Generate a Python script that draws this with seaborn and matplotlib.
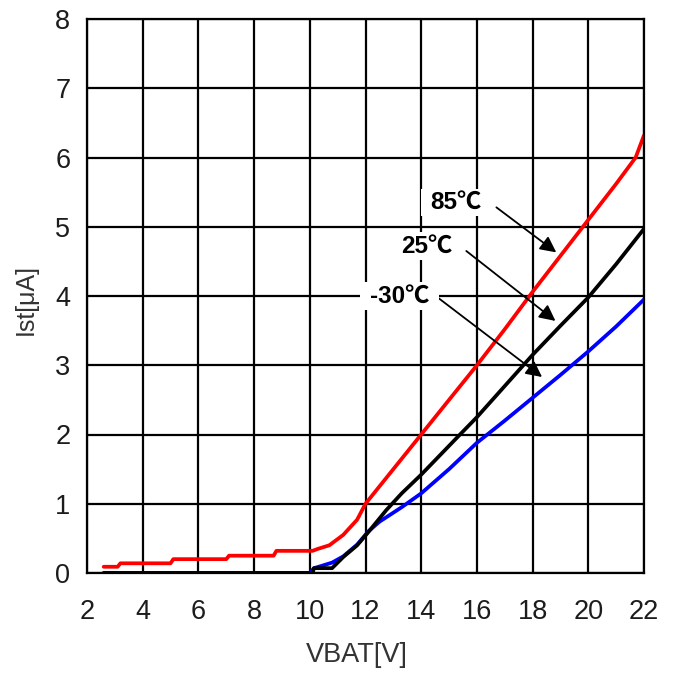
import matplotlib
matplotlib.use("Agg")
import matplotlib.pyplot as plt
from matplotlib.path import Path
import pandas as pd
import seaborn as sns

# Standby current Ist [uA] against battery voltage VBAT [V] at three temperatures
temps = ["-30℃", "25℃", "85℃"]
colors = ["#0000ff", "#000000", "#ff0000"]

vbat_m30 = [2.6, 10.0, 10.15, 10.4, 10.8, 11.2, 11.7, 12.1, 12.5, 13.3, 14.0,
            15.0, 16.0, 17.0, 18.0, 19.0, 20.0, 21.0, 22.0]
ist_m30 = [0.0, 0.0, 0.07, 0.1, 0.15, 0.24, 0.41, 0.6, 0.74, 0.95, 1.15,
           1.5, 1.88, 2.2, 2.53, 2.86, 3.2, 3.56, 3.95]

vbat_25 = [2.6, 10.1, 10.15, 10.8, 11.2, 11.7, 12.1, 12.75, 13.3, 14.0,
           15.37, 16.0, 17.0, 18.0, 19.0, 20.0, 21.0, 22.0]
ist_25 = [0.0, 0.0, 0.07, 0.07, 0.23, 0.40, 0.59, 0.91, 1.15, 1.42,
          1.99, 2.25, 2.70, 3.15, 3.57, 3.98, 4.46, 4.97]

vbat_85 = [2.6, 3.1, 3.2, 5.0, 5.1, 7.0, 7.1, 8.7, 8.8, 10.1, 10.3, 10.7,
           11.2, 11.7, 12.0, 13.0, 14.0, 15.0, 16.0, 17.0, 18.0, 19.0,
           20.0, 21.0, 21.7, 22.0]
ist_85 = [0.09, 0.09, 0.14, 0.14, 0.20, 0.20, 0.25, 0.25, 0.32, 0.32, 0.35,
          0.40, 0.55, 0.77, 1.0, 1.5, 2.0, 2.5, 3.0, 3.52, 4.06, 4.58,
          5.1, 5.62, 6.0, 6.32]

x_ticks = [2, 4, 6, 8, 10, 12, 14, 16, 18, 20, 22]
y_ticks = [0, 1, 2, 3, 4, 5, 6, 7, 8]

# label text position, arrow tail, arrow head (data units)
callouts = [
    ("85℃", (15.26, 5.35), (16.70, 5.28), (18.85, 4.63)),
    ("25℃", (14.19, 4.72), (15.62, 4.65), (18.82, 3.64)),
    ("-30℃", (13.22, 4.00), (14.62, 3.97), (18.34, 2.83)),
]

frames = []
for name, xs, ys in zip(temps, [vbat_m30, vbat_25, vbat_85], [ist_m30, ist_25, ist_85]):
    frames.append(pd.DataFrame({"VBAT": xs, "Ist": ys, "temp": name}))
df = pd.concat(frames, ignore_index=True)


def label_box(x0, y0, width, height, mutation_size):
    """White backing box: wide horizontal padding, tight vertical padding."""
    padx = 0.40 * mutation_size
    pady = 0.10 * mutation_size
    x0, y0 = x0 - padx, y0 - pady
    x1, y1 = x0 + width + 2 * padx, y0 + height + 2 * pady
    return Path([(x0, y0), (x1, y0), (x1, y1), (x0, y1), (x0, y0)], closed=True)


sns.set_theme(style="white")
plt.rcParams["font.family"] = ["Liberation Sans", "Noto Sans CJK JP", "DejaVu Sans"]

fig = plt.figure(figsize=(6.77, 6.75), dpi=100)
ax = fig.add_axes([87 / 677, 1 - 573 / 675, (644 - 87) / 677, (573 - 19) / 675])

sns.lineplot(data=df, x="VBAT", y="Ist", hue="temp", hue_order=temps,
             palette=colors, estimator=None, sort=False, linewidth=2.7,
             legend=False, ax=ax)

ax.set_xlim(2, 22)
ax.set_ylim(0, 8)
ax.set_xticks(x_ticks)
ax.set_yticks(y_ticks)
ax.grid(True, color="black", linewidth=1.6)
ax.set_axisbelow(True)
for sp in ax.spines.values():
    sp.set_color("black")
    sp.set_linewidth(1.6)

ax.tick_params(axis="both", length=0, labelsize=19.5, colors="#1c1c1c")
ax.tick_params(axis="x", pad=19)
ax.tick_params(axis="y", pad=12)

ax.set_xlabel("VBAT[V]", fontsize=19.5, color="#333333")
ax.set_ylabel("Ist[μA]", fontsize=18, color="#333333")
ax.xaxis.set_label_coords(0.485, -0.125)
ax.yaxis.set_label_coords(-0.088, 0.493)

for text, pos, tail, head in callouts:
    ax.annotate("", xy=head, xytext=tail,
                arrowprops=dict(arrowstyle="-|>", color="black", lw=1.3,
                                mutation_scale=24, shrinkA=0, shrinkB=0))
    ax.text(pos[0], pos[1], text, fontsize=17.5, fontweight="bold",
            ha="center", va="center", color="black",
            bbox=dict(boxstyle=label_box, fc="white", ec="none"))

fig.savefig("out.png", dpi=100, facecolor="white")
